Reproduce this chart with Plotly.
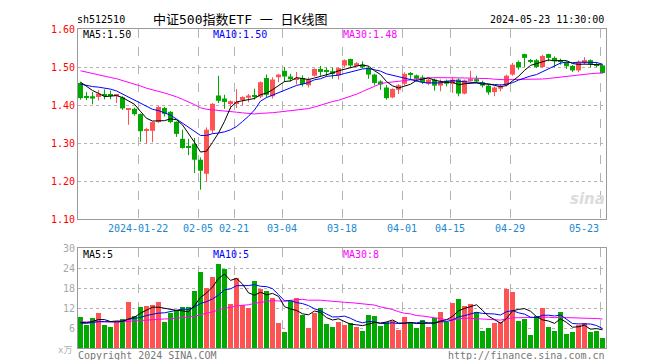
import plotly.graph_objects as go
import pandas as pd

# ---------------- data ----------------
dates = [
    "2024-01-08", "2024-01-09", "2024-01-10", "2024-01-11", "2024-01-12", "2024-01-15", "2024-01-16",
    "2024-01-17", "2024-01-18", "2024-01-19", "2024-01-22", "2024-01-23", "2024-01-24", "2024-01-25",
    "2024-01-26", "2024-01-29", "2024-01-30", "2024-01-31", "2024-02-01", "2024-02-02", "2024-02-05",
    "2024-02-06", "2024-02-07", "2024-02-08", "2024-02-19", "2024-02-20", "2024-02-21", "2024-02-22",
    "2024-02-23", "2024-02-26", "2024-02-27", "2024-02-28", "2024-02-29", "2024-03-01", "2024-03-04",
    "2024-03-05", "2024-03-06", "2024-03-07", "2024-03-08", "2024-03-11", "2024-03-12", "2024-03-13",
    "2024-03-14", "2024-03-15", "2024-03-18", "2024-03-19", "2024-03-20", "2024-03-21", "2024-03-22",
    "2024-03-25", "2024-03-26", "2024-03-27", "2024-03-28", "2024-03-29", "2024-04-01", "2024-04-02",
    "2024-04-03", "2024-04-08", "2024-04-09", "2024-04-10", "2024-04-11", "2024-04-12", "2024-04-15",
    "2024-04-16", "2024-04-17", "2024-04-18", "2024-04-19", "2024-04-22", "2024-04-23", "2024-04-24",
    "2024-04-25", "2024-04-26", "2024-04-29", "2024-04-30", "2024-05-06", "2024-05-07", "2024-05-08",
    "2024-05-09", "2024-05-10", "2024-05-13", "2024-05-14", "2024-05-15", "2024-05-16", "2024-05-17",
    "2024-05-20", "2024-05-21", "2024-05-22", "2024-05-23",
]

opens = [
    1.458, 1.422, 1.423, 1.421, 1.428, 1.426, 1.424, 1.420, 1.389, 1.390,
    1.376, 1.332, 1.332, 1.355, 1.392, 1.382, 1.356, 1.311, 1.289, 1.297,
    1.256, 1.219, 1.333, 1.425, 1.417, 1.405, 1.405, 1.413, 1.419, 1.424,
    1.422, 1.471, 1.423, 1.473, 1.490, 1.475, 1.468, 1.471, 1.452, 1.477,
    1.495, 1.491, 1.489, 1.478, 1.504, 1.521, 1.505, 1.506, 1.496, 1.480,
    1.462, 1.446, 1.420, 1.440, 1.456, 1.481, 1.478, 1.473, 1.456, 1.467,
    1.451, 1.464, 1.455, 1.467, 1.430, 1.465, 1.468, 1.460, 1.451, 1.434,
    1.443, 1.452, 1.480, 1.513, 1.534, 1.517, 1.518, 1.500, 1.534, 1.524,
    1.516, 1.513, 1.503, 1.491, 1.513, 1.518, 1.507, 1.504,
]
highs = [
    1.460, 1.434, 1.434, 1.439, 1.441, 1.438, 1.428, 1.423, 1.392, 1.393,
    1.378, 1.340, 1.356, 1.397, 1.395, 1.384, 1.357, 1.335, 1.311, 1.313,
    1.262, 1.341, 1.405, 1.477, 1.427, 1.412, 1.442, 1.423, 1.429, 1.443,
    1.462, 1.480, 1.473, 1.482, 1.500, 1.482, 1.487, 1.478, 1.473, 1.496,
    1.503, 1.499, 1.499, 1.499, 1.520, 1.522, 1.513, 1.515, 1.502, 1.482,
    1.465, 1.453, 1.444, 1.455, 1.486, 1.487, 1.480, 1.478, 1.470, 1.470,
    1.467, 1.467, 1.473, 1.470, 1.467, 1.490, 1.477, 1.464, 1.455, 1.449,
    1.455, 1.480, 1.511, 1.517, 1.535, 1.521, 1.521, 1.532, 1.535, 1.528,
    1.522, 1.515, 1.505, 1.517, 1.526, 1.520, 1.513, 1.506,
]
lows = [
    1.414, 1.413, 1.402, 1.412, 1.415, 1.415, 1.405, 1.387, 1.348, 1.372,
    1.303, 1.298, 1.302, 1.353, 1.370, 1.352, 1.316, 1.285, 1.268, 1.221,
    1.177, 1.197, 1.325, 1.405, 1.390, 1.389, 1.392, 1.398, 1.407, 1.414,
    1.418, 1.420, 1.417, 1.460, 1.460, 1.462, 1.454, 1.449, 1.446, 1.475,
    1.477, 1.475, 1.469, 1.467, 1.500, 1.499, 1.502, 1.496, 1.469, 1.452,
    1.440, 1.414, 1.418, 1.429, 1.452, 1.467, 1.462, 1.455, 1.452, 1.438,
    1.436, 1.449, 1.432, 1.423, 1.428, 1.462, 1.458, 1.446, 1.427, 1.423,
    1.436, 1.449, 1.477, 1.493, 1.500, 1.510, 1.497, 1.498, 1.515, 1.499,
    1.506, 1.495, 1.487, 1.486, 1.506, 1.499, 1.499, 1.483,
]
closes = [
    1.418, 1.420, 1.417, 1.430, 1.426, 1.424, 1.427, 1.391, 1.391, 1.376,
    1.331, 1.336, 1.355, 1.395, 1.377, 1.355, 1.324, 1.287, 1.287, 1.256,
    1.227, 1.335, 1.403, 1.411, 1.408, 1.410, 1.408, 1.421, 1.425, 1.422,
    1.460, 1.427, 1.467, 1.480, 1.475, 1.468, 1.470, 1.455, 1.467, 1.495,
    1.487, 1.489, 1.482, 1.497, 1.518, 1.504, 1.510, 1.499, 1.480, 1.458,
    1.454, 1.418, 1.442, 1.452, 1.482, 1.479, 1.469, 1.460, 1.467, 1.451,
    1.462, 1.456, 1.467, 1.430, 1.465, 1.467, 1.462, 1.451, 1.433, 1.446,
    1.449, 1.477, 1.506, 1.499, 1.524, 1.515, 1.500, 1.529, 1.524, 1.515,
    1.514, 1.502, 1.491, 1.513, 1.518, 1.508, 1.505, 1.484,
]
volumes = [
    9.3, 6.9, 9.0, 10.5, 6.9, 6.3, 7.8, 8.7, 13.8, 9.6,
    12.3, 12.6, 12.9, 13.8, 7.8, 10.5, 11.4, 12.3, 12.3, 17.1,
    22.8, 18.0, 21.3, 25.2, 23.7, 13.2, 21.0, 12.9, 12.0, 20.1,
    17.7, 17.1, 15.0, 7.5, 4.8, 14.1, 15.0, 9.9, 6.0, 10.5,
    12.0, 7.2, 6.3, 7.8, 6.9, 7.5, 6.3, 5.1, 9.9, 9.6,
    6.6, 7.8, 8.1, 5.4, 9.3, 7.8, 6.0, 8.4, 6.3, 9.0,
    10.8, 7.8, 13.5, 14.7, 12.6, 13.2, 10.8, 5.1, 6.0, 7.5,
    7.8, 17.7, 16.8, 8.1, 8.7, 3.9, 9.6, 12.0, 6.3, 5.1,
    10.8, 4.2, 4.8, 6.9, 7.5, 4.8, 5.1, 3.0,
]
# estimated sessions before the visible window (needed for the moving averages)
prior_closes = [
    1.535, 1.530, 1.532, 1.528, 1.525, 1.520, 1.522, 1.518, 1.515, 1.512,
    1.508, 1.505, 1.500, 1.497, 1.495, 1.490, 1.485, 1.482, 1.478, 1.475,
    1.455, 1.448, 1.445, 1.452, 1.450, 1.475, 1.472, 1.468, 1.468,
]
prior_volumes = [
    8.5, 7.9, 8.2, 7.6, 8.8, 7.4, 8.1, 7.7, 8.4, 7.2,
    8.0, 7.5, 8.9, 7.8, 8.3, 7.6, 8.6, 7.3, 8.1, 7.5,
    7.6, 6.9, 7.4, 7.0, 7.4, 7.5, 7.1, 7.6, 7.0,
]
tick_dates = ["2024-01-22", "2024-02-05", "2024-02-21", "2024-03-04", "2024-03-18",
              "2024-04-01", "2024-04-15", "2024-04-29", "2024-05-23"]
tick_labels = ["2024-01-22", "02-05", "02-21", "03-04", "03-18", "04-01", "04-15", "04-29", "05-23"]
price_ticks = [1.10, 1.20, 1.30, 1.40, 1.50, 1.60]
volume_ticks = [6, 12, 18, 24, 30]

# ---------------- styles ----------------
RED = "#ff5252"
GREEN = "#00a800"
MONO = "DejaVu Sans Mono"
GRID = "#b4b4b4"
BORDER = "#9a9a9a"
BW = 5 / 6
OFF = 5 / 12

n = len(dates)
idx = list(range(n))
ma_p = {k: pd.Series(prior_closes + closes).rolling(k).mean().tolist()[-n:] for k in (5, 10, 30)}
ma_v = {k: pd.Series(prior_volumes + volumes).rolling(k).mean().tolist()[-n:] for k in (5, 10, 30)}

fig = go.Figure()

for is_up, col in ((True, RED), (False, GREEN)):
    ii = [i for i in idx if (closes[i] >= opens[i]) == is_up]
    wx, wy = [], []
    for i in ii:
        wx += [i, i, None]
        wy += [lows[i], highs[i], None]
    fig.add_trace(go.Scatter(x=wx, y=wy, mode="lines", line=dict(color=col, width=1),
                             hoverinfo="skip", xaxis="x", yaxis="y"))
    base = [min(opens[i], closes[i]) for i in ii]
    hgt = [max(abs(closes[i] - opens[i]), 0.0026) for i in ii]
    fig.add_trace(go.Bar(x=ii, y=hgt, base=base, width=BW, marker=dict(color=col, line=dict(width=0)),
                         xaxis="x", yaxis="y"))
    fig.add_trace(go.Bar(x=ii, y=[volumes[i] for i in ii], width=BW,
                         marker=dict(color=col, line=dict(width=0)), xaxis="x2", yaxis="y2"))

for k, col in ((30, "#ff00ff"), (10, "#0000ff"), (5, "#000000")):
    fig.add_trace(go.Scatter(x=idx, y=ma_p[k], mode="lines", line=dict(color=col, width=1),
                             xaxis="x", yaxis="y"))
    fig.add_trace(go.Scatter(x=idx, y=ma_v[k], mode="lines", line=dict(color=col, width=1),
                             xaxis="x2", yaxis="y2"))

tickpos = [dates.index(d) - OFF for d in tick_dates]
xcommon = dict(range=[-OFF, n - OFF], tickvals=tickpos, showticklabels=False, ticks="",
               showgrid=True, gridcolor=GRID, griddash="dash", gridwidth=1,
               showline=True, mirror=True, linecolor=BORDER, linewidth=1, zeroline=False, fixedrange=True)

X0, X1, YT, YB = 70, 598, 21, 340


def px(x):
    return (x - X0) / (X1 - X0)


def py(y):
    return (YB - y) / (YB - YT)


fig.update_layout(
    width=660, height=360,
    margin=dict(l=X0, r=660 - X1, t=YT, b=360 - YB),
    paper_bgcolor="white", plot_bgcolor="white",
    showlegend=False, barmode="overlay",
    font=dict(family=MONO, size=10, color="#000"),
    xaxis=dict(domain=[0, 1], anchor="y", **xcommon),
    xaxis2=dict(domain=[0, 1], anchor="y2", matches="x", **xcommon),
    yaxis=dict(domain=[py(211), 1], range=[1.10, 1.60], tickvals=price_ticks, tickformat=".2f",
               tickfont=dict(color="#ff0000", size=10, family=MONO), ticks="",
               showgrid=True, gridcolor=GRID, griddash="dot", gridwidth=1,
               showline=True, mirror=True, linecolor=BORDER, zeroline=False, fixedrange=True),
    yaxis2=dict(domain=[0, py(240)], range=[0, 30], tickvals=volume_ticks,
                tickfont=dict(color="#a8a8a8", size=10, family=MONO), ticks="",
                showgrid=True, gridcolor=GRID, griddash="dot", gridwidth=1,
                showline=True, mirror=True, linecolor=BORDER, zeroline=False, fixedrange=True),
)


def ann(text, x, y, anchor="left", color="#000", size=10, family=MONO, **kw):
    return dict(text=text, x=px(x), y=py(y), xref="paper", yref="paper", xanchor=anchor,
                yanchor="middle", showarrow=False, font=dict(color=color, size=size, family=family),
                **kw)


anns = [
    ann("sh512510", 67, 12),
    ann("中证500指数ETF 一 日K线图", 232, 12, anchor="center", size=13,
        family="DejaVu Sans Mono, Noto Sans CJK SC"),
    ann("2024-05-23 11:30:00", 598, 12, anchor="right"),
    ann("MA5:1.50", 73, 27),
    ann("MA10:1.50", 203, 27, color="#0000ff"),
    ann("MA30:1.48", 333, 27, color="#ff00ff"),
    ann("MA5:5", 73, 246),
    ann("MA10:5", 203, 246, color="#0000ff"),
    ann("MA30:8", 333, 246, color="#ff00ff"),
    ann("Copyright 2024 SINA.COM", 68, 347, color="#777777"),
    ann("http://finance.sina.com.cn", 599, 347, anchor="right", color="#777777"),
    ann("x万", 66, 342, anchor="right", color="#b0b0b0", size=9, family="DejaVu Sans Mono, Noto Sans CJK SC"),
    ann("<i><b>sina</b></i>", 579, 191, anchor="center", color="#dcdcdc", size=15, family="DejaVu Sans"),
]
for lab, tp in zip(tick_labels, tickpos):
    xx = X0 + (tp + OFF) * (X1 - X0) / n
    last = lab == tick_labels[-1]
    anns.append(ann(lab, xx + (1 if last else 0), 221, anchor="right" if last else "center", color="#1a88d0"))
fig.update_layout(annotations=anns)

fig.write_html("out.html")
